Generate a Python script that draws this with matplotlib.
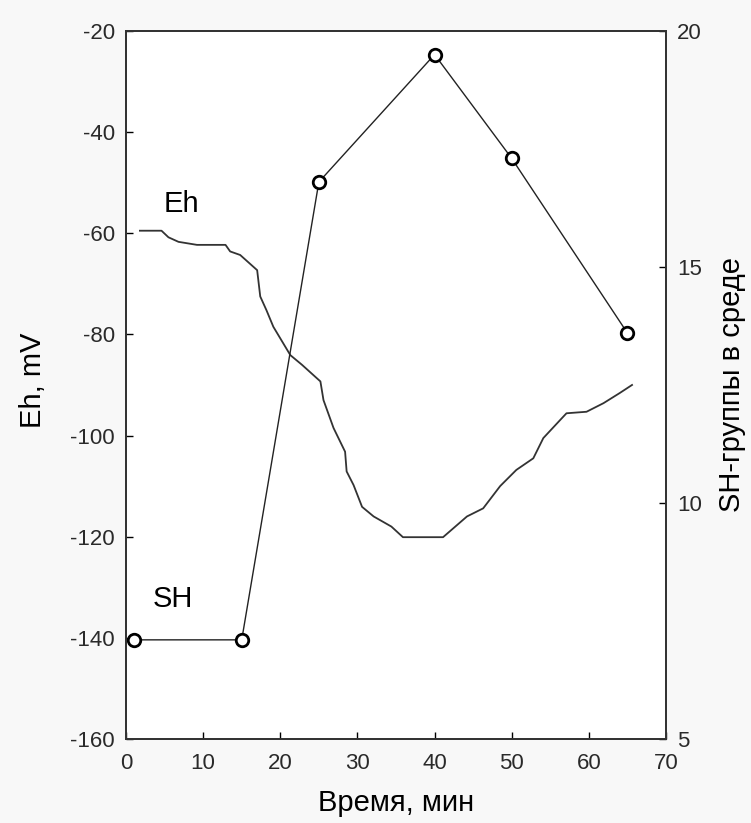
import matplotlib.pyplot as plt

plt.rcParams['font.family'] = ['Liberation Sans', 'DejaVu Sans']
plt.rcParams['axes.unicode_minus'] = False

# Eh (mV) recording vs time
eh_time = [1.8, 4.6, 5.5, 6.8, 9.2, 12.9, 13.5, 14.8, 17.0, 17.4, 18.2, 19.1,
           21.3, 22.8, 25.2, 25.6, 26.9, 28.4, 28.6, 29.5, 30.6, 32.1, 34.4,
           35.9, 41.1, 44.2, 46.3, 48.5, 50.6, 52.8, 54.1, 56.3, 57.1, 59.7,
           61.9, 64.0, 65.6]
eh_values = [-59.5, -59.5, -60.8, -61.7, -62.3, -62.3, -63.6, -64.3, -67.3,
             -72.5, -75.2, -78.5, -84.1, -86.0, -89.3, -93.0, -98.5, -103.2,
             -107.1, -109.8, -114.1, -116.0, -118.0, -120.1, -120.1, -116.0,
             -114.4, -110.0, -106.8, -104.5, -100.5, -96.9, -95.6, -95.3,
             -93.6, -91.6, -90.0]

# SH-groups
sh_time = [1, 15, 25, 40, 50, 65]
sh_values = [7.1, 7.1, 16.8, 19.5, 17.3, 13.6]

x_ticks = [0, 10, 20, 30, 40, 50, 60, 70]
eh_ticks = [-160, -140, -120, -100, -80, -60, -40, -20]
sh_ticks = [5, 10, 15, 20]

fig = plt.figure(figsize=(7.51, 8.23), dpi=100, facecolor='#f8f8f8')
ax = fig.add_axes([0.1678, 0.1021, 0.719, 0.8603])
ax.set_facecolor('white')

ax.plot(eh_time, eh_values, color='#333333', lw=1.3)
ax.set_xlim(0, 70)
ax.set_ylim(-160, -20)
ax.set_xticks(x_ticks)
ax.set_yticks(eh_ticks)
ax.tick_params(direction='in', length=5, width=1, labelsize=16,
               labelcolor='#2a2a2a', pad=8)
ax.tick_params(axis='x', pad=10)

ax2 = ax.twinx()
ax2.plot(sh_time, sh_values, color='#222222', lw=1.0, marker='o', ms=9,
         mfc='white', mec='black', mew=2)
ax2.set_ylim(5, 20)
ax2.set_yticks(sh_ticks)
ax2.tick_params(direction='in', length=5, width=1, labelsize=16,
                labelcolor='#2a2a2a', pad=8)

for a in (ax, ax2):
    for s in a.spines.values():
        s.set_linewidth(1.3)
        s.set_color('#333333')

ax.text(4.9, -55.8, 'Eh', fontsize=21)
ax.text(3.4, -133.9, 'SH', fontsize=21)

fig.text(33 / 751, 1 - 380 / 823, 'Eh, mV', rotation=90, fontsize=21,
         ha='center', va='center')
fig.text(732 / 751, 1 - 385 / 823, 'SH-группы в среде', rotation=90,
         fontsize=21, ha='center', va='center')
fig.text(396 / 751, 1 - 803 / 823, 'Время, мин', fontsize=21,
         ha='center', va='center')

fig.savefig('out.png', dpi=100, facecolor=fig.get_facecolor())
